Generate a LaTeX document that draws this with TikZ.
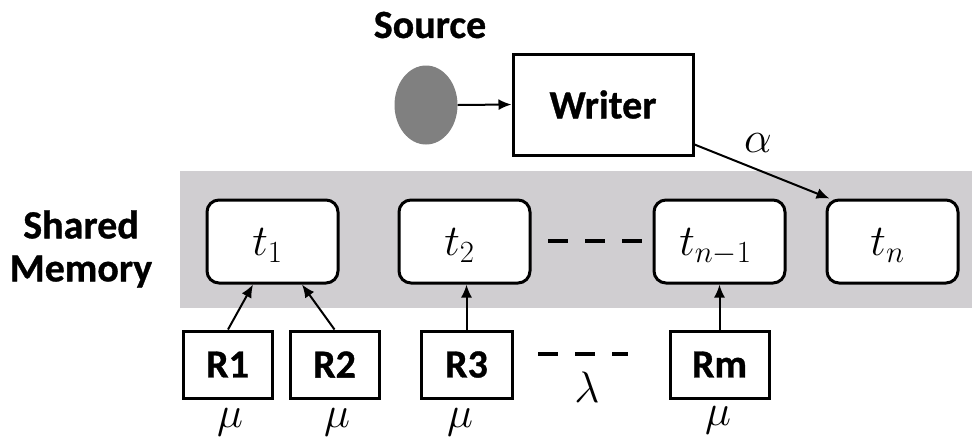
\documentclass[tikz,border=0pt]{standalone}
\usepackage{fix-cm}
\usepackage[no-math]{fontspec}
\setmainfont{Carlito}[BoldFeatures={FakeBold=0.8}]
\usetikzlibrary{arrows.meta,shapes.geometric}
\definecolor{bandgray}{RGB}{208,206,209}
\definecolor{srcgray}{RGB}{128,128,128}

\begin{document}
\begin{tikzpicture}[x=1pt,y=-1pt,
  lbl/.style={font=\fontsize{40}{43}\selectfont\bfseries},
  cell/.style={draw, line width=3pt, rounded corners=12pt, fill=white,
    minimum width=131pt, minimum height=83pt, inner sep=0pt,
    text height=28pt, text depth=0pt,
    font=\fontsize{44}{48}\selectfont},
  reader/.style={draw, line width=3pt, fill=white, minimum height=67pt,
    inner sep=0pt, lbl},
  link/.style={line width=2pt, -{Latex[length=13pt,width=11pt]}},
  rate/.style={font=\fontsize{44}{48}\selectfont, inner sep=0pt},
  gap/.style={line width=4.5pt, dash pattern=on 20pt off 17pt}
]
\useasboundingbox (0,0) rectangle (972,440);

% shared memory band
\node[fill=bandgray, minimum width=792pt, minimum height=137pt,
  inner sep=0pt, anchor=north west] (band) at (180,171) {};
\node[lbl, align=center] (mem) at (81,249) {Shared\\Memory};

% source and writer
\node[lbl] (srclabel) at (430,25) {Source};
\node[ellipse, fill=srcgray, minimum width=63pt, minimum height=79pt,
  inner sep=0pt] (src) at (426,105) {};
\node[draw, line width=3pt, minimum width=180pt, minimum height=101pt,
  lbl] (writer) at (603,104.5) {Writer};

% memory cells (labels sit a little left of centre)
\node[cell] (t1) at (272.5,241.5) {$t_1$\hspace*{10pt}};
\node[cell] (t2) at (464.5,241.5) {$t_2$\hspace*{10pt}};
\node[cell] (tm) at (719.5,241.5) {$t_{n-1}$\hspace*{8pt}};
\node[cell] (tn) at (892.5,241.5) {$t_n$\hspace*{10pt}};

% readers
\node[reader, minimum width=89pt] (r1) at (227.5,364.5) {R1};
\node[reader, minimum width=89pt] (r2) at (334.5,364.5) {R2};
\node[reader, minimum width=91pt] (r3) at (466.5,364.5) {R3};
\node[reader, minimum width=99pt] (rm) at (719.5,364.5) {Rm};

% connectors
\draw[link] (src.east) -- (writer.west);
\draw[link] ([yshift=12pt]writer.south east) -- ([xshift=4pt]tn.north west);
\draw[link] ([xshift=0.5pt]r1.north) -- ([xshift=-19.5pt]t1.south);
\draw[link] (r2.north) -- ([xshift=29.5pt]t1.south);
\draw[link] (r3.north) -- (r3.north |- t2.south);
\draw[link] (rm.north) -- (tm.south);

% ellipsis dashes
\coordinate (ca) at (548,241);
\coordinate (cb) at (643,241);
\draw[gap] (ca) -- (cb);
\coordinate (ra) at (538,354);
\coordinate (rb) at (628,354);
\draw[gap, line width=4pt] (ra) -- (rb);

% rates
\node[rate] (alpha) at (758,143) {$\alpha$};
\node[rate] (lambda) at (587,387) {$\lambda$};
\node[rate] (mu1) at (230,422) {$\mu$};
\node[rate] (mu2) at (337,422) {$\mu$};
\node[rate] (mu3) at (460,422) {$\mu$};
\node[rate] (mu4) at (718,420) {$\mu$};
\end{tikzpicture}
\end{document}
